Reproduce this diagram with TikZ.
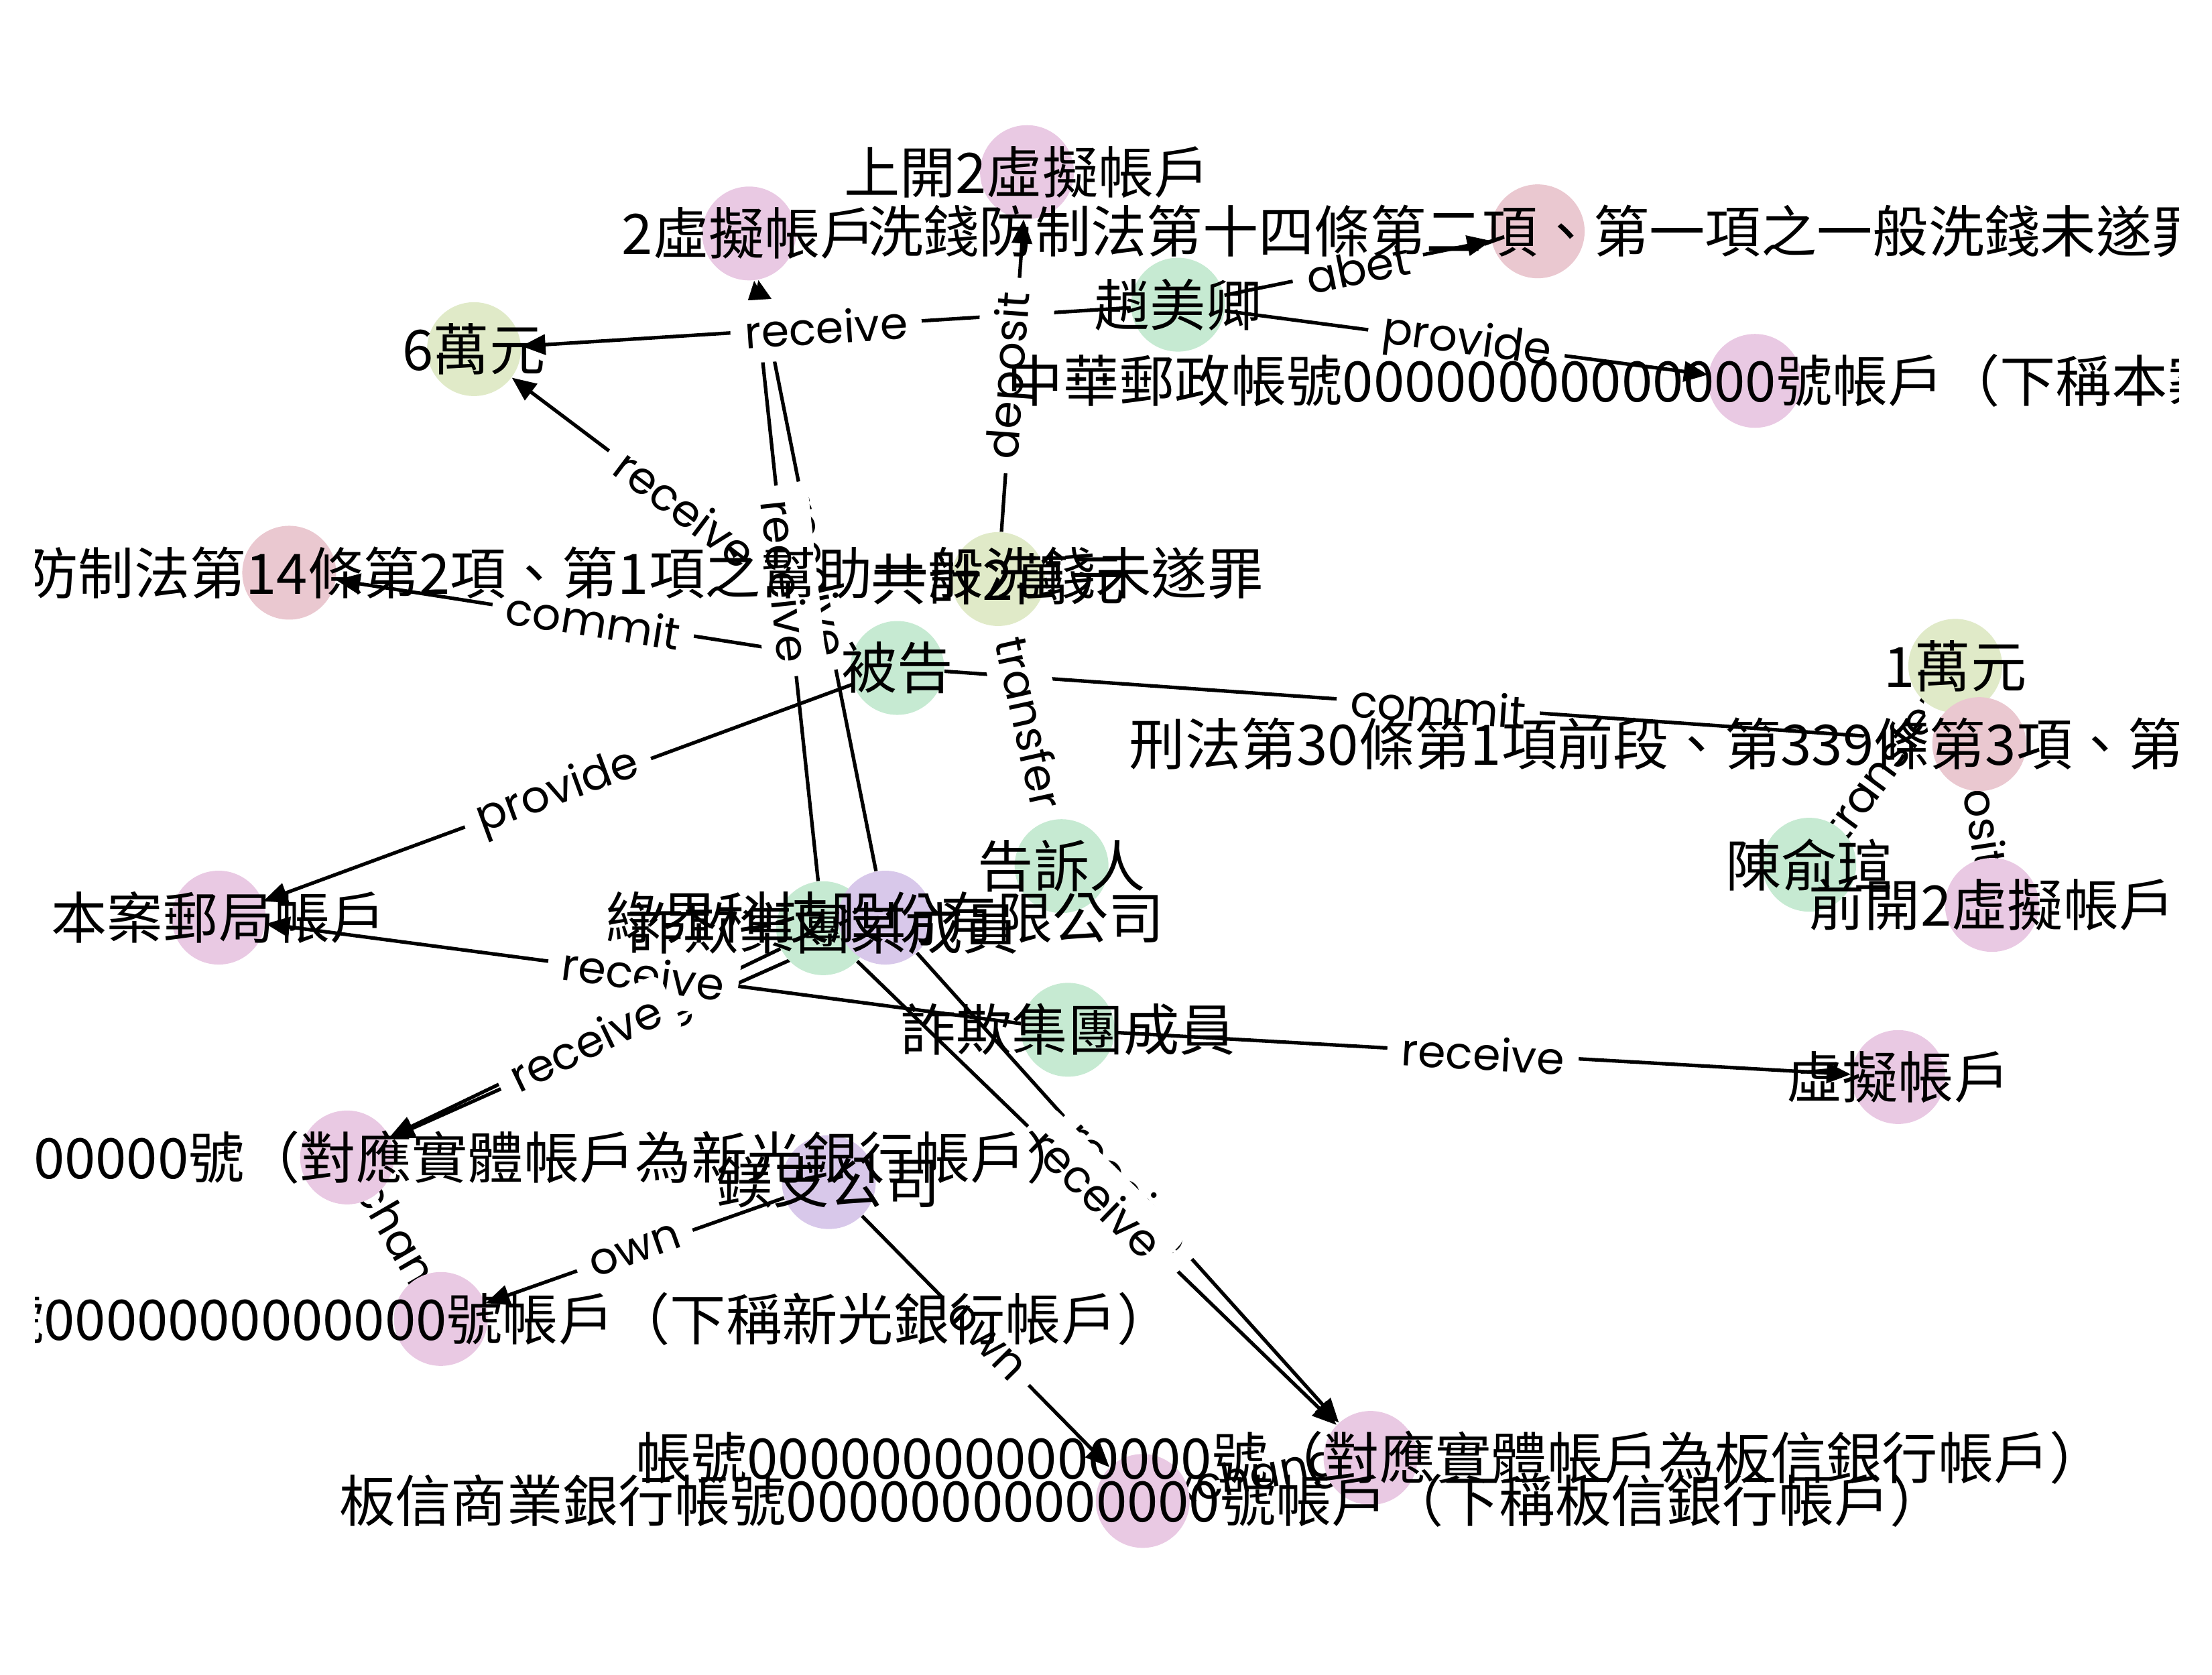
\documentclass[tikz,border=0pt]{standalone}
\usepackage{fontspec}
\newfontfamily\cjk{Noto Sans CJK TC}
\newfontfamily\elfont{Poppins}
\usetikzlibrary{arrows.meta}
\pgfdeclarelayer{edges}
\pgfdeclarelayer{elabels}
\pgfsetlayers{edges,elabels,main}
\definecolor{acccol}{HTML}{E9C9E3}
\definecolor{lawcol}{HTML}{EAC8D0}
\definecolor{percol}{HTML}{C6EAD2}
\definecolor{moncol}{HTML}{E0EAC8}
\definecolor{orgcol}{HTML}{D8C8EA}
\begin{document}
\begin{tikzpicture}[x=0.021046cm, y=-0.021046cm,
    bub/.style={circle, minimum size=1.4cm, inner sep=0pt},
    acc/.style={bub, fill=acccol},
    law/.style={bub, fill=lawcol},
    per/.style={bub, fill=percol},
    mon/.style={bub, fill=moncol},
    org/.style={bub, fill=orgcol},
    txt/.style={font=\cjk\fontsize{23.7}{28}\selectfont, inner sep=0pt},
    rel/.style={draw, line width=1.5pt, -{Triangle[length=0.36cm,width=0.3cm]}},
    elab/.style={font=\elfont\fontsize{19}{22}\selectfont, fill=white, rounded corners=5pt, inner sep=6pt, sloped}]
    \pgfmathsetmacro{\r}{1544.5}
    \useasboundingbox (0,0) rectangle (1568,1187.4);
    \node[acc] (sk) at (728,122) {};
    \node[acc] (v2) at (531,165.5) {};
    \node[law] (law1) at (1090,164) {};
    \node[per] (zhao) at (835,216) {};
    \node[mon] (m6) at (336,247.5) {};
    \node[acc] (post) at (1244,270) {};
    \node[law] (law2) at (205,406) {};
    \node[mon] (m2) at (707.5,410.5) {};
    \node[per] (bei) at (636,473.5) {};
    \node[mon] (m1) at (1386,472) {};
    \node[law] (law3) at (1403,527.5) {};
    \node[per] (chen) at (1282.5,613) {};
    \node[acc] (qk) at (1412,641.5) {};
    \node[per] (gao) at (752.5,614) {};
    \node[per] (gang1) at (583.5,658) {};
    \node[org] (ecpay) at (627.5,650.5) {};
    \node[per] (gang2) at (757,730) {};
    \node[acc] (virt) at (1345.5,763.5) {};
    \node[acc] (case) at (155,650.5) {};
    \node[acc] (skmap) at (246,820.5) {};
    \node[org] (meizhi) at (587.5,838) {};
    \node[acc] (skacc) at (312.5,935) {};
    \node[acc] (bxmap) at (971.5,1033.5) {};
    \node[acc] (bxacc) at (810,1064) {};

    \begin{pgfonlayer}{edges}
    \draw[rel] (zhao) -- (m6);
    \draw[rel] (zhao) -- (law1);
    \draw[rel] (zhao) -- (post);
    \draw[rel] (m2) -- (sk);
    \draw[rel] (bei) -- (m6);
    \draw[rel] (bei) -- (law2);
    \draw[rel] (bei) -- (law3);
    \draw[rel] (bei) -- (case);
    \draw[rel] (gao) -- (m2);
    \draw[rel] (gang1) -- (v2);
    \draw[rel] (ecpay) -- (v2);
    \draw[rel] (gang2) -- (case);
    \draw[rel] (gang2) -- (virt);
    \draw[rel] (gang1) -- (skmap);
    \draw[rel] (ecpay) -- (skmap);
    \draw[rel] (gang1) -- (bxmap);
    \draw[rel] (ecpay) -- (bxmap);
    \draw[rel] (meizhi) -- (skacc);
    \draw[rel] (meizhi) -- (bxacc);
    \draw[rel] (skmap) -- (skacc);
    \draw[rel] (bxmap) -- (bxacc);
    \draw[rel] (chen) -- (m1);
    \draw[rel] (m1) -- (qk);
    \end{pgfonlayer}

    \begin{pgfonlayer}{elabels}
    \path (ecpay) -- node[elab] (l1) {receive} (v2);
    \path (ecpay) -- node[elab] (l2) {receive} (skmap);
    \path (ecpay) -- node[elab] (l3) {receive} (bxmap);
    \path (zhao) -- node[elab] (l4) {receive} (m6);
    \path (zhao) -- node[elab] (l5) {abet} (law1);
    \path (zhao) -- node[elab] (l6) {provide} (post);
    \path (m2) -- node[elab] (l7) {deposit} (sk);
    \path (bei) -- node[elab] (l8) {receive} (m6);
    \path (bei) -- node[elab] (l9) {commit} (law2);
    \path (bei) -- node[elab] (l10) {commit} (law3);
    \path (bei) -- node[elab] (l11) {provide} (case);
    \path (gao) -- node[elab] (l12) {transfer} (m2);
    \path (gang1) -- node[elab] (l13) {receive} (v2);
    \path (gang2) -- node[elab] (l14) {receive} (case);
    \path (gang2) -- node[elab] (l15) {receive} (virt);
    \path (gang1) -- node[elab] (l16) {receive} (skmap);
    \path (gang1) -- node[elab] (l17) {receive} (bxmap);
    \path (meizhi) -- node[elab] (l18) {own} (skacc);
    \path (meizhi) -- node[elab] (l19) {own} (bxacc);
    \path (skmap) -- node[elab] (l20) {exchange} (skacc);
    \path (bxmap) -- node[elab] (l21) {exchange} (bxacc);
    \path (chen) -- node[elab] (l22) {transfer} (m1);
    \path (m1) -- node[elab] (l23) {deposit} (qk);
    \end{pgfonlayer}

    \node[txt] (t-sk) at (sk) {上開2虛擬帳戶};
    \node[txt] (t-v2) at (v2) {2虛擬帳戶};
    \node[txt] (t-law1) at (law1) {洗錢防制法第十四條第二項、第一項之一般洗錢未遂罪};
    \node[txt] (t-zhao) at (zhao) {趙美卿};
    \node[txt] (t-m6) at (m6) {6萬元};
    \node[txt] (t-post) at (post) {中華郵政帳號00000000000000號帳戶（下稱本案郵局帳戶）};
    \node[txt] (t-law2) at (law2) {刑法第30條第1項前段、洗錢防制法第14條第2項、第1項之幫助一般洗錢未遂罪};
    \node[txt] (t-m2) at (m2) {共計2萬元};
    \node[txt] (t-bei) at (bei) {被告};
    \node[txt] (t-m1) at (m1) {1萬元};
    \node[txt] (t-law3) at (law3) {刑法第30條第1項前段、第339條第3項、第1項之幫助詐欺取財未遂罪};
    \node[txt] (t-chen) at (chen) {陳俞瑄};
    \node[txt] (t-qk) at (qk) {前開2虛擬帳戶};
    \node[txt] (t-gao) at (gao) {告訴人};
    \node[txt] (t-gang1) at (gang1) {詐欺集團某成員};
    \node[txt] (t-ecpay) at (ecpay) {綠界科技股份有限公司};
    \node[txt] (t-gang2) at (gang2) {詐欺集團成員};
    \node[txt] (t-virt) at (virt) {虛擬帳戶};
    \node[txt] (t-case) at (case) {本案郵局帳戶};
    \node[txt] (t-skmap) at (skmap) {帳號000000000000000號（對應實體帳戶為新光銀行帳戶）};
    \node[txt] (t-meizhi) at (meizhi) {鎂支公司};
    \node[txt] (t-skacc) at (skacc) {新光銀行帳號0000000000000號帳戶（下稱新光銀行帳戶）};
    \node[txt] (t-bxmap) at (bxmap) {帳號000000000000000號（對應實體帳戶為板信銀行帳戶）};
    \node[txt] (t-bxacc) at (bxacc) {板信商業銀行帳號00000000000000號帳戶（下稱板信銀行帳戶）};

    \fill[white] (0,0) rectangle (24.7,1187.4);
    \fill[white] (\r,0) rectangle (1568,1187.4);
\end{tikzpicture}
\end{document}
